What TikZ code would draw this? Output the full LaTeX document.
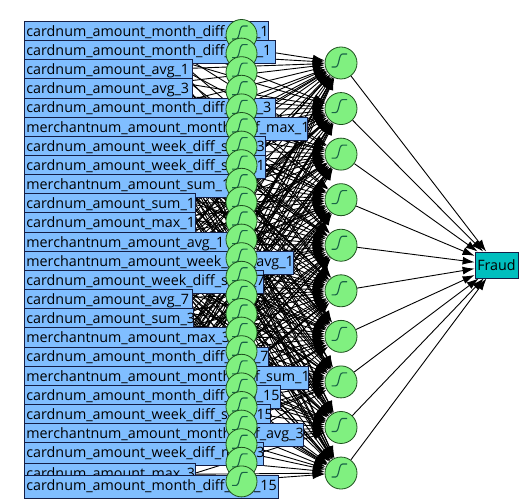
\documentclass[tikz,border=0pt]{standalone}
\usepackage{fontspec}
\setmainfont{Open Sans}
\usetikzlibrary{arrows.meta,backgrounds}

\definecolor{boxblue}{RGB}{128,190,255}
\definecolor{boxline}{RGB}{20,30,70}
\definecolor{cellgreen}{RGB}{128,240,128}
\definecolor{cellline}{RGB}{30,80,30}
\definecolor{sigline}{RGB}{25,100,70}
\definecolor{fraudteal}{RGB}{0,190,190}

\tikzset{
	inbox/.style={draw=boxline, fill=boxblue, line width=0.8pt, anchor=north west,
		minimum height=23pt, inner xsep=2pt, inner ysep=0pt, text height=11pt, text depth=4pt,
		align=left, font=\fontsize{14.3}{16}\selectfont},
	cell/.style={circle, draw=cellline, fill=cellgreen, line width=0.8pt, minimum size=#1, inner sep=0pt,
		path picture={\draw[sigline, line width=1.1pt] ([shift={(-9.5,4)}]path picture bounding box.center)
			-- ++(4,0) .. controls +(4,0) and +(-4,0) .. ++(7,-13) -- ++(4.5,0);}},
	link/.style={line width=0.9pt, -{Latex[length=12pt,width=8pt]}},
}

\begin{document}
\begin{tikzpicture}[x=1pt, y=-1pt]
	\useasboundingbox (0,0) rectangle (524,502);
	
	% input labels: number / top / right edge / text
	\foreach \k/\ytop/\xr/\txt in {
		1/21.0/268/cardnum\_amount\_month\_diff\_avg\_1,
		2/40.15/275/cardnum\_amount\_month\_diff\_min\_1,
		3/59.3/192/cardnum\_amount\_avg\_1,
		4/78.45/192/cardnum\_amount\_avg\_3,
		5/97.6/275/cardnum\_amount\_month\_diff\_min\_3,
		6/116.75/307/merchantnum\_amount\_month\_diff\_max\_1,
		7/135.9/265/cardnum\_amount\_week\_diff\_sum\_3,
		8/155.05/265/cardnum\_amount\_week\_diff\_sum\_1,
		9/174.2/234/merchantnum\_amount\_sum\_1,
		10/193.35/195/cardnum\_amount\_sum\_1,
		11/212.5/195/cardnum\_amount\_max\_1,
		12/231.65/234/merchantnum\_amount\_avg\_1,
		13/250.8/293/merchantnum\_amount\_week\_diff\_avg\_1,
		14/269.95/263/cardnum\_amount\_week\_diff\_sum\_7,
		15/289.1/192/cardnum\_amount\_avg\_7,
		16/308.25/193/cardnum\_amount\_sum\_3,
		17/327.4/236/merchantnum\_amount\_max\_3,
		18/346.55/268/cardnum\_amount\_month\_diff\_avg\_7,
		19/365.7/308/merchantnum\_amount\_month\_diff\_sum\_1,
		20/384.85/280/cardnum\_amount\_month\_diff\_min\_15,
		21/404.0/270/cardnum\_amount\_week\_diff\_sum\_15,
		22/423.15/303/merchantnum\_amount\_month\_diff\_avg\_3,
		23/442.3/263/cardnum\_amount\_week\_diff\_max\_3,
		24/463/195/cardnum\_amount\_max\_3,
		25/475/278/cardnum\_amount\_month\_diff\_avg\_15}
	{
		\pgfmathsetmacro{\tw}{\xr-28}
		\node[inbox, text width=\tw pt] (l\k) at (24,\ytop) {\mbox{\txt}};
	}
	
	\foreach \k in {1,...,25}
		\node[cell=31pt] (c\k) at (241.5, {35+18.6*(\k-1)}) {};		% input neurons
	\foreach \j in {1,...,10}
		\node[cell=32pt] (h\j) at (341, {63+45.56*(\j-1)}) {};		% hidden layer
	
	\node[draw=boxline, fill=fraudteal, line width=0.8pt, minimum width=43pt, minimum height=26pt,
		inner sep=0pt, font=\fontsize{14.3}{16}\selectfont] (fraud) at (496.5,265) {Fraud};
	
	\begin{pgfonlayer}{background}
		\foreach \k in {1,...,25}
			\foreach \j in {1,...,10}
				\draw[link] (l\k) -- (h\j);
		\foreach \j in {1,...,10}
			\draw[link] (h\j) -- (fraud);
	\end{pgfonlayer}
\end{tikzpicture}
\end{document}
